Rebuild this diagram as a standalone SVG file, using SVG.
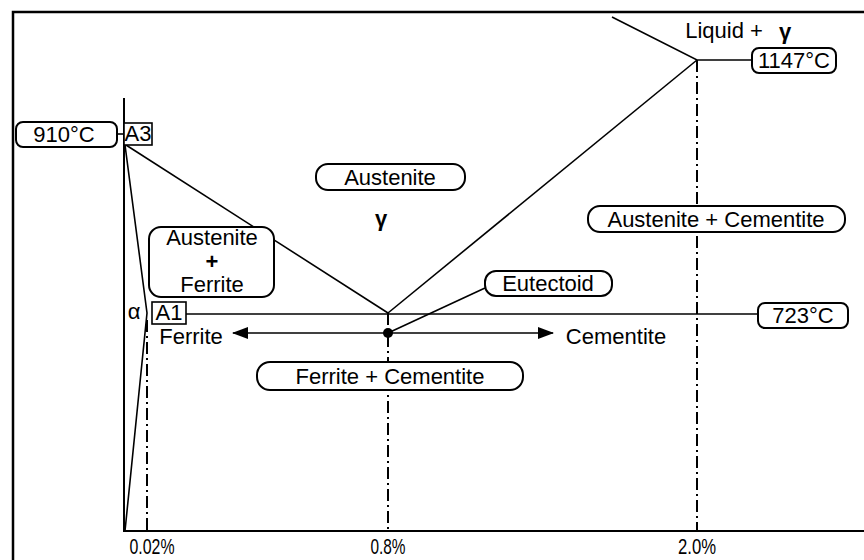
<svg xmlns="http://www.w3.org/2000/svg" width="864" height="560" viewBox="0 0 864 560">
<style>
  .t{font-family:"Liberation Sans",Arial,sans-serif;font-size:22px;fill:#000;text-anchor:middle}
  .box{fill:#fff;stroke:#000;stroke-width:2}
  .sq{fill:#fff;stroke:#000;stroke-width:1.6}
  .ln{fill:none;stroke:#000;stroke-width:1.6}
  .dd{fill:none;stroke:#000;stroke-width:2;stroke-dasharray:12 4 2 4}
  .pct{font-family:"Liberation Sans",Arial,sans-serif;font-size:22px;fill:#000;text-anchor:middle}
</style>
<defs>
  <marker id="ah" viewBox="0 0 16 12" refX="15" refY="6" markerWidth="16" markerHeight="12" markerUnits="userSpaceOnUse" orient="auto-start-reverse">
    <path d="M0,0 L16,6 L0,12 Z" fill="#000"/>
  </marker>
</defs>
<rect width="864" height="560" fill="#fff"/>
<path d="M13,560 V12 H864" fill="none" stroke="#000" stroke-width="2.5"/>
<path d="M124,98 V531 H864" fill="none" stroke="#000" stroke-width="2"/>
<g id="connectors">
  <path class="ln" d="M126,145 L388,313"/>
  <path class="ln" d="M388,313 L697,60"/>
  <path class="ln" d="M612,17 L697,60 L752,60"/>
  <path class="ln" d="M125,145 L147,313 L125,531"/>
  <path class="ln" d="M117,134 H124"/>
  <path class="ln" d="M186,314 H758"/>
  <path class="ln" d="M485,288 L388,333"/>
  <path class="ln" d="M233,333 H553" marker-start="url(#ah)" marker-end="url(#ah)"/>
  <circle cx="388" cy="333" r="5" fill="#000"/>
  <path class="dd" d="M147,320 V531"/>
  <path class="dd" d="M388,313 V531"/>
  <path class="dd" d="M697,60 V531"/>
</g>
<g id="t910"><rect class="box" x="16" y="122" width="101" height="25" rx="7"/><text class="t" x="64" y="142">910°C</text></g>
<g id="a3"><rect class="sq" x="124" y="123" width="28" height="22"/><text class="t" x="138" y="141" font-size="19">A3</text></g>
<g id="austenite"><rect class="box" x="316" y="164" width="149" height="26" rx="12"/><text class="t" x="390" y="185">Austenite</text></g>
<g id="gamma"><text class="t" x="381" y="226" font-weight="bold" font-size="24">γ</text></g>
<g id="austferrite"><rect class="box" x="149" y="227" width="125" height="70" rx="12"/>
  <text class="t" x="212" y="245" font-size="19">Austenite</text>
  <text class="t" x="212" y="269" font-size="12" font-weight="bold">+</text>
  <text class="t" x="212" y="292" font-size="19">Ferrite</text></g>
<g id="eutectoid"><rect class="box" x="485" y="271" width="127" height="25" rx="11"/><text class="t" x="548" y="291">Eutectoid</text></g>
<g id="alpha"><text class="t" x="134" y="319">α</text></g>
<g id="a1"><rect class="sq" x="152" y="302" width="34" height="22"/><text class="t" x="169" y="320" font-size="19">A1</text></g>
<g id="t723"><rect class="box" x="758" y="303" width="90" height="25" rx="7"/><text class="t" x="803" y="323">723°C</text></g>
<g id="ferrite"><text class="t" x="191" y="344">Ferrite</text></g>
<g id="cementite"><text class="t" x="616" y="344">Cementite</text></g>
<g id="fercem"><rect class="box" x="257" y="362" width="266" height="28" rx="13"/><text class="t" x="390" y="384">Ferrite + Cementite</text></g>
<g id="austcem"><rect class="box" x="588" y="206" width="257" height="26" rx="12"/><text class="t" x="716" y="227">Austenite + Cementite</text></g>
<g id="t1147"><rect class="box" x="752" y="48" width="84" height="25" rx="7"/><text class="t" x="794" y="68">1147°C</text></g>
<g id="liquid"><text class="t" x="724" y="38">Liquid +</text><text class="t" x="785" y="39" font-weight="bold">γ</text></g>
<g id="pct">
  <text class="pct" x="152" y="554" textLength="45" lengthAdjust="spacingAndGlyphs">0.02%</text>
  <text class="pct" x="388" y="554" textLength="35" lengthAdjust="spacingAndGlyphs">0.8%</text>
  <text class="pct" x="697" y="554" textLength="38" lengthAdjust="spacingAndGlyphs">2.0%</text>
</g>
</svg>
